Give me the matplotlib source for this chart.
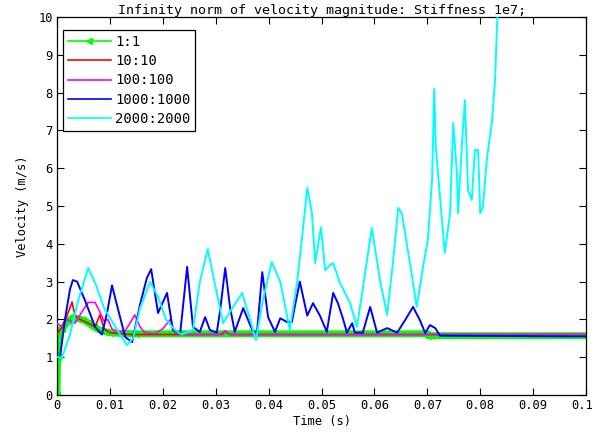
import matplotlib
matplotlib.use("Agg")
import matplotlib.pyplot as plt
import matplotlib.transforms as mtransforms
from matplotlib.lines import Line2D

plt.rcParams['font.family'] = ['DejaVu Sans Mono']

# velocity traces (time in s, infinity norm of velocity in m/s)
t_1 = [0, 0.0001, 0.0002, 0.0004, 0.001, 0.002, 0.003, 0.004, 0.005, 0.006,
       0.007, 0.008, 0.009, 0.010, 0.012, 0.015, 0.0700, 0.0701, 0.1]
v_1 = [0, 1.0, 1.35, 1.7, 1.75, 1.95, 2.05, 2.02, 1.98, 1.9,
       1.8, 1.72, 1.68, 1.65, 1.63, 1.62, 1.62, 1.57, 1.57]

t_10 = [0, 0.00095, 0.0019, 0.00284, 0.0034, 0.00435, 0.0059, 0.0072, 0.0081,
        0.0089, 0.01, 0.0138, 0.0308, 0.0318, 0.0327, 0.1]
v_10 = [1.6, 1.8, 2.1, 2.46, 2.1, 2.0, 1.9, 1.8, 2.12,
        1.75, 1.65, 1.6, 1.6, 1.68, 1.6, 1.6]

t_100 = [0, 0.00095, 0.0019, 0.0034, 0.0047, 0.0059, 0.0072, 0.0081, 0.0089,
         0.0096, 0.0104, 0.0115, 0.0129, 0.0138, 0.0147, 0.0157, 0.0166,
         0.0185, 0.02, 0.0214, 0.0223, 0.0242, 0.0314, 0.0318, 0.0327, 0.1]
v_100 = [1.9, 1.8, 2.0, 1.9, 2.2, 2.45, 2.45, 2.2, 1.95,
         2.0, 1.75, 1.65, 1.7, 1.9, 2.12, 1.8, 1.65,
         1.62, 1.75, 2.0, 1.65, 1.6, 1.6, 1.7, 1.6, 1.6]

t_1000 = [0, 0.00057, 0.0015, 0.00246, 0.003, 0.0038, 0.0053, 0.0072, 0.0085,
          0.0095, 0.0104, 0.0113, 0.0129, 0.0142, 0.0157, 0.017, 0.0178,
          0.0191, 0.0208, 0.0219, 0.0233, 0.0246, 0.0257, 0.027, 0.028,
          0.0289, 0.0302, 0.0308, 0.0318, 0.0327, 0.0336, 0.0352, 0.0369,
          0.0378, 0.0388, 0.0399, 0.0412, 0.0422, 0.0435, 0.0444, 0.045,
          0.0459, 0.0473, 0.0484, 0.0497, 0.051, 0.0522, 0.0531, 0.0541,
          0.0548, 0.0558, 0.0563, 0.0578, 0.0592, 0.0605, 0.0624, 0.0643,
          0.0658, 0.0673, 0.0686, 0.0696, 0.0705, 0.0715, 0.0724, 0.1]
v_1000 = [1.0, 1.0, 2.0, 2.8, 3.04, 3.0, 2.5, 1.8, 1.6,
          2.2, 2.9, 2.4, 1.53, 1.4, 2.4, 3.1, 3.33,
          2.17, 2.7, 1.72, 1.65, 3.39, 1.8, 1.67, 2.06,
          1.72, 1.65, 2.2, 3.36, 2.33, 1.67, 2.3, 1.72,
          1.65, 3.25, 2.06, 1.67, 2.03, 1.93, 1.93, 2.38,
          3.0, 2.1, 2.43, 2.1, 1.67, 2.7, 2.43, 2.0,
          1.65, 1.9, 1.65, 1.65, 2.33, 1.65, 1.77, 1.65,
          1.98, 2.33, 1.98, 1.64, 1.85, 1.77, 1.57, 1.55]

t_2000 = [0, 0.00095, 0.00246, 0.004, 0.0059, 0.0074, 0.0089, 0.0104, 0.0119,
          0.0132, 0.0144, 0.0157, 0.0176, 0.0191, 0.0206, 0.0223, 0.0236,
          0.0257, 0.027, 0.0285, 0.0299, 0.0314, 0.0327, 0.035, 0.0365,
          0.0376, 0.0389, 0.0406, 0.0422, 0.044, 0.0454, 0.0465, 0.0473,
          0.0482, 0.0488, 0.0499, 0.0507, 0.0516, 0.0522, 0.0535, 0.0554,
          0.0567, 0.058, 0.0595, 0.0611, 0.0624, 0.0635, 0.0645, 0.0652,
          0.0667, 0.068, 0.0692, 0.0701, 0.0709, 0.0713, 0.0716, 0.0724,
          0.0733, 0.0743, 0.0749, 0.0756, 0.0758, 0.0766, 0.0771, 0.0777,
          0.0784, 0.079, 0.0796, 0.08, 0.0805, 0.0813, 0.0822, 0.0828, 0.0834]
v_2000 = [1.0, 1.0, 1.6, 2.5, 3.36, 2.9, 2.3, 1.95, 1.6,
          1.32, 1.5, 2.3, 2.99, 2.6, 2.0, 1.72, 1.6,
          1.72, 3.0, 3.86, 2.9, 1.9, 2.2, 2.7, 2.0,
          1.45, 2.5, 3.52, 3.0, 1.72, 3.0, 4.4, 5.48,
          4.8, 3.49, 4.44, 3.3, 3.44, 3.49, 2.96, 2.43,
          1.8, 3.0, 4.42, 3.0, 2.12, 3.5, 4.95, 4.8,
          3.5, 2.33, 3.4, 4.1, 5.7, 8.1, 6.56, 5.24,
          3.76, 4.81, 7.2, 5.87, 4.81, 6.75, 7.8, 5.42,
          5.16, 6.48, 6.48, 4.81, 4.97, 6.3, 7.2, 8.33, 10.6]

labels = ['1:1', '10:10', '100:100', '1000:1000', '2000:2000']
colors = ['#00ff00', '#ff0000', '#ff00ff', '#0000ff', '#00ffff']

x_ticks = [0, 0.01, 0.02, 0.03, 0.04, 0.05, 0.06, 0.07, 0.08, 0.09, 0.1]
x_tick_labels = ['0', '0.01', '0.02', '0.03', '0.04', '0.05', '0.06',
                 '0.07', '0.08', '0.09', '0.1']
y_ticks = list(range(0, 11))

fig = plt.figure(figsize=(5.95, 4.37), dpi=100)
ax = fig.add_axes([0.0958, 0.0961, 0.8891, 0.8649])

# 1:1 run is sampled densely, so it shows up as a thick marker band
ax.plot(t_1, v_1, color=colors[0], lw=5, marker='<', ms=4.5, zorder=2)
ax.plot(t_10, v_10, color=colors[1], lw=1.2, zorder=3)
ax.plot(t_100, v_100, color=colors[2], lw=1.2, zorder=3)
ax.plot(t_1000, v_1000, color=colors[3], lw=1.4, zorder=4)
ax.plot(t_2000, v_2000, color=colors[4], lw=1.4, zorder=5)

ax.set_xlim(0, 0.1)
ax.set_ylim(0, 10)
ax.set_xticks(x_ticks)
ax.set_xticklabels(x_tick_labels)
ax.set_yticks(y_ticks)
ax.tick_params(direction='in', length=5, width=0.8, top=True, right=True,
               labelsize=8.7, pad=3)
for sp in ax.spines.values():
    sp.set_linewidth(0.9)

# keep the last x label inside the figure
last = ax.get_xticklabels()[-1]
last.set_transform(last.get_transform() +
                   mtransforms.ScaledTranslation(-3 / 72, 0, fig.dpi_scale_trans))

ax.set_title('Infinity norm of velocity magnitude: Stiffness 1e7;',
             fontsize=9.6, pad=2.5)
ax.set_xlabel('Time (s)', fontsize=8.7, labelpad=2)
ax.set_ylabel('Velocity (m/s)', fontsize=8.7, labelpad=7)

handles = [Line2D([], [], color=colors[0], lw=1.2, marker='<', ms=4)]
handles += [Line2D([], [], color=c, lw=1.2) for c in colors[1:]]
leg = ax.legend(handles, labels, loc='upper left',
                bbox_to_anchor=(0.0113, 0.9656), borderaxespad=0,
                fontsize=10, handlelength=3.1, handletextpad=0.3,
                labelspacing=0.38, borderpad=0.35, numpoints=1,
                fancybox=False, framealpha=1, edgecolor='black')
leg.get_frame().set_linewidth(0.9)

fig.savefig('out.png', dpi=100)
